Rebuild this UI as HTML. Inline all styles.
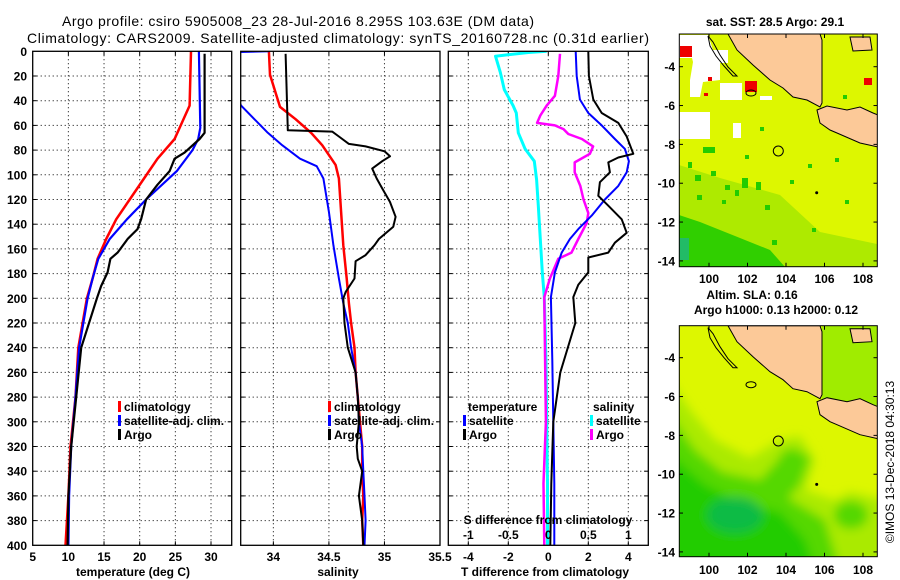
<!DOCTYPE html>
<html><head><meta charset="utf-8"><style>
html,body{margin:0;padding:0;background:#fff;}
svg{display:block;font-family:"Liberation Sans",Arial,sans-serif;}
.t{font-size:12px;font-weight:bold;fill:#000;}
</style></head><body>
<svg id="fig" width="900" height="580" viewBox="0 0 900 580" xmlns="http://www.w3.org/2000/svg">
<defs>
<filter id="blur5" x="-20%" y="-20%" width="140%" height="140%"><feGaussianBlur stdDeviation="5"/></filter>
<clipPath id="cm1"><rect x="679.3" y="34" width="198" height="232.7"/></clipPath>
<clipPath id="cm2"><rect x="679.3" y="325.7" width="198" height="231"/></clipPath>
</defs>
<text x="298" y="26" text-anchor="middle" style="font-size:14px" textLength="472">Argo profile: csiro 5905008_23 28-Jul-2016 8.295S 103.63E (DM data)</text>
<text x="338" y="43" text-anchor="middle" style="font-size:14px" textLength="622">Climatology: CARS2009. Satellite-adjusted climatology: synTS_20160728.nc (0.31d earlier)</text>

<!-- Map 1 -->
<g>
<g clip-path="url(#cm1)">
<rect x="679.3" y="34" width="198" height="232.7" fill="#ddf700"/>
<polygon points="679,165 720,178 780,195 820,232 877,244 877,267 679,267" fill="#a8e800" opacity="0.9"/>
<polygon points="679,215 700,222 740,238 770,250 785,267 679,267" fill="#22cc00" opacity="0.9"/>
<rect x="679" y="238" width="10" height="22" fill="#22bb66"/>
<g fill="#22cc00">
<rect x="742" y="178" width="6" height="10"/><rect x="756" y="182" width="5" height="8"/><rect x="697" y="195" width="5" height="5"/>
<rect x="711" y="171" width="5" height="5"/><rect x="688" y="162" width="4" height="6"/><rect x="722" y="200" width="4" height="4"/>
<rect x="735" y="190" width="4" height="6"/><rect x="808" y="164" width="4" height="4"/><rect x="835" y="158" width="4" height="4"/>
<rect x="790" y="180" width="4" height="4"/><rect x="845" y="200" width="4" height="4"/><rect x="703" y="147" width="12" height="6"/>
<rect x="745" y="155" width="4" height="4"/><rect x="812" y="228" width="4" height="4"/><rect x="772" y="240" width="5" height="5"/>
<rect x="760" y="127" width="4" height="4"/><rect x="818" y="110" width="4" height="4"/><rect x="843" y="95" width="4" height="4"/>
<rect x="695" y="175" width="6" height="6"/><rect x="725" y="185" width="5" height="5"/><rect x="765" y="205" width="5" height="5"/>
</g>
<polygon points="679,35 708,35 713,50 728,50 728,63 720,63 720,80 703,82 700,97 690,97 690,80 693,62 692,58 679,58" fill="#fff"/>
<rect x="679" y="112" width="31" height="27" fill="#fff"/>
<rect x="733" y="123" width="8" height="15" fill="#fff"/>
<rect x="720" y="83" width="22" height="17" fill="#fff"/>
<rect x="760" y="96" width="12" height="4" fill="#fff"/>
<rect x="680" y="46" width="12" height="11" fill="#e00"/>
<rect x="745" y="81" width="12" height="11" fill="#e00"/>
<rect x="708" y="77" width="4" height="4" fill="#e00"/>
<rect x="704" y="93" width="4" height="3" fill="#e00"/>
<rect x="864" y="78" width="8" height="7" fill="#e00"/>
<g id="land1">
<polygon points="728,34 737,50 753,65 770,80 783,88 793,97 807,100 820,107 822,103 822,40 820,34" fill="#fcc998" stroke="#000" stroke-width="1"/>
<polygon points="817,110 827,106 847,110 860,107 873,113 878,115 878,147 860,143 837,133 830,130 820,123" fill="#fcc998" stroke="#000" stroke-width="1"/>
<polygon points="850,37 870,37 872,50 853,51" fill="#fcc998" stroke="#000" stroke-width="1"/>
<polygon points="708,36 713,42 720,55 728,67 737,76 733,76 724,66 716,56 710,46" fill="none" stroke="#000" stroke-width="1"/>
<ellipse cx="751" cy="93" rx="5" ry="3" fill="none" stroke="#000"/>
<circle cx="816.7" cy="192.7" r="1.5" fill="#000"/>
</g>
<circle cx="778.3" cy="151" r="5" fill="none" stroke="#000"/>
</g>
<rect x="679.3" y="34" width="198" height="232.7" fill="none" stroke="#000"/>
</g>
<text x="775" y="26" text-anchor="middle" class="t">sat. SST: 28.5 Argo: 29.1</text>

<!-- Map 2 -->
<g>
<g clip-path="url(#cm2)">
<rect x="679.3" y="325.7" width="198" height="231" fill="#ddf700"/>
<polygon points="822,326 878,326 878,412 822,405" fill="#a0ec00"/>
<g filter="url(#blur5)">
<polygon points="670,380 690,410 715,440 750,458 780,440 800,436 815,460 805,490 835,500 850,492 885,500 885,570 670,570" fill="#aaea00"/>
<polygon points="670,415 695,450 722,472 760,480 780,458 795,448 810,458 800,485 788,498 825,520 840,570 670,570" fill="#55d800"/>
<polygon points="670,455 705,485 745,505 780,512 805,540 815,570 670,570" fill="#22cc00"/>
<ellipse cx="735" cy="515" rx="28" ry="18" fill="#11bb44"/>
<ellipse cx="851" cy="515" rx="17" ry="14" fill="#55d800"/>
<ellipse cx="790" cy="465" rx="12" ry="16" fill="#55d800"/>
</g>
<g transform="translate(0,291.7)">
<polygon points="728,34 737,50 753,65 770,80 783,88 793,97 807,100 820,107 822,103 822,40 820,34" fill="#fcc998" stroke="#000" stroke-width="1"/>
<polygon points="817,110 827,106 847,110 860,107 873,113 878,115 878,147 860,143 837,133 830,130 820,123" fill="#fcc998" stroke="#000" stroke-width="1"/>
<polygon points="850,37 870,37 872,50 853,51" fill="#fcc998" stroke="#000" stroke-width="1"/>
<polygon points="708,36 713,42 720,55 728,67 737,76 733,76 724,66 716,56 710,46" fill="none" stroke="#000" stroke-width="1"/>
<ellipse cx="751" cy="93" rx="5" ry="3" fill="none" stroke="#000"/>
<circle cx="816.7" cy="192.7" r="1.5" fill="#000"/>
</g>
<circle cx="778.3" cy="441" r="5" fill="none" stroke="#000"/>
</g>
<rect x="679.3" y="325.7" width="198" height="231" fill="none" stroke="#000"/>
</g>
<text x="752" y="299" text-anchor="middle" class="t">Altim. SLA: 0.16</text>
<text x="776" y="314" text-anchor="middle" class="t">Argo h1000: 0.13 h2000: 0.12</text>
<text transform="translate(894,462) rotate(-90)" text-anchor="middle" class="t" style="font-weight:normal">©IMOS 13-Dec-2018 04:30:13</text>

<g id="plots"></g>
</svg>
<script>
// ---- Temperature panel data ----
const tDepthClim = [0,44,71,87,103,120,136,152,168,184,200,240,280,320,360,400];
const tClim = [27.2,27.0,24.9,22.5,20.6,18.6,16.7,15.3,14.1,13.4,12.6,11.4,11.0,10.3,10.0,9.6];
const tDepthSat = [0,62,71,80,97,120,136,152,168,184,200,240,280,320,360,400];
const tSat = [28.3,28.5,28.2,27.4,25.2,20.9,18.2,15.8,14.2,13.4,12.7,11.5,11.0,10.4,10.1,10.0];
const tDepthArgo = [2,66,71,82,87,97,108,120,136,144,152,163,168,179,190,200,240,280,320,360,400];
const tArgo = [29.1,29.1,28.4,26.3,24.9,24.2,22.5,20.9,20.2,19.7,18.3,16.9,15.9,15.5,14.6,14.0,11.8,11.1,10.4,10.0,9.9];
// ---- Salinity panel data ----
const sDepthClim = [0,19,45,55,66,76,92,103,130,157,184,204,220,240,260,280,300,320,340,360,380,400];
const sClim = [33.96,33.97,34.06,34.20,34.34,34.44,34.56,34.59,34.61,34.63,34.66,34.68,34.70,34.73,34.74,34.76,34.78,34.80,34.80,34.81,34.80,34.81];
const sDepthSat = [0,1,44,66,76,87,93,103,130,157,184,204,220,240,260,280,300,320,340,360,380,400];
const sSat = [33.96,33.5,33.71,33.95,34.08,34.24,34.39,34.45,34.50,34.54,34.59,34.63,34.67,34.70,34.74,34.76,34.77,34.80,34.81,34.82,34.83,34.82];
const sDepthArgo = [2,64,65,69,75,77,81,85,89,95,103,111,122,134,142,152,157,165,170,184,195,200,220,240,260,280,300,320,330,340,360,380,400];
const sArgo = [34.11,34.13,34.53,34.59,34.68,34.83,35.00,35.05,34.98,34.89,34.93,34.98,35.05,35.10,35.08,34.95,34.91,34.83,34.74,34.73,34.65,34.63,34.64,34.67,34.74,34.76,34.77,34.75,34.76,34.80,34.77,34.80,34.81];
// ---- Difference panel data ----
const dTSatDepth = [0,20,39,50,60,71,79,89,98,109,120,133,144,152,163,179,199,250,300,350,400];
const dTSat = [1.37,1.42,1.58,2.0,2.67,3.33,3.83,4.03,3.92,3.5,2.83,2.17,1.5,1.08,0.67,0.33,0.13,0.2,0.25,0.3,0.3];
const dTArgoDepth = [0,20,39,50,58,69,83,86,90,98,106,117,125,136,147,155,163,167,179,189,199,220,260,300,350,400];
const dTArgo = [2.0,2.03,2.25,2.67,3.5,3.92,4.25,3.5,3.0,3.08,2.58,2.5,3.0,3.67,3.92,3.33,3.0,2.0,2.0,1.5,1.25,1.35,0.6,0.25,0.15,0.1];
const dSSatDepth = [0,1,4,17,31,44,50,66,79,89,104,125,152,179,199,250,300,350,400];
const dSSat = [-0.02,-0.25,-0.66,-0.60,-0.55,-0.44,-0.40,-0.375,-0.29,-0.175,-0.146,-0.125,-0.10,-0.075,-0.05,-0.03,-0.02,-0.01,-0.01];
const dSArgoDepth = [2,20,36,44,52,58,60,63,67,71,77,83,90,98,109,120,131,139,152,163,168,184,199,250,300,350,400];
const dSArgo = [0.146,0.125,0.083,-0.02,-0.10,-0.14,0.083,0.19,0.25,0.42,0.56,0.52,0.33,0.33,0.40,0.44,0.5,0.48,0.375,0.29,0.125,0.02,-0.05,-0.04,-0.03,-0.06,-0.05];
// ---- Tick labels ----
const depthTicks = [0,20,40,60,80,100,120,140,160,180,200,220,240,260,280,300,320,340,360,380,400];
const tTicks = [5,10,15,20,25,30];
const sTicks = ["34","34.5","35","35.5"];
const dTTicks = [-4,-2,0,2,4];
const dSTicks = ["-1","-0.5","0","0.5","1"];
const lonTicks = [100,102,104,106,108];
const latTicks = [-4,-6,-8,-10,-12,-14];

const NS = "http://www.w3.org/2000/svg";
const root = document.getElementById('plots');
function mk(tag, attrs, parent){const e=document.createElementNS(NS,tag);for(const k in attrs)e.setAttribute(k,attrs[k]);(parent||root).appendChild(e);return e;}
const Y0=51.3, Y1=545.3;
function yD(d){return Y0+(d/400)*(Y1-Y0);}
const panels = [
 {name:'temperature', x0:32.7, x1:231.7, min:5, max:32.9, grid:[10,15,20,25,30]},
 {name:'salinity', x0:240.7, x1:440, min:33.706, max:35.5, grid:[34,34.5,35]},
 {name:'difference', x0:448.3, x1:648.3, min:-5, max:5, grid:[-4,-2,0,2,4]}
];
function xf(p){return v=>p.x0+(v-p.min)/(p.max-p.min)*(p.x1-p.x0);}
panels.forEach((p,i)=>{
  const g=mk('g',{});
  
  
  const cp=mk('clipPath',{id:'cp'+i},g); mk('rect',{x:p.x0,y:Y0,width:p.x1-p.x0,height:Y1-Y0},cp);
  const X=xf(p);
  for(let d=20; d<400; d+=20){
    const l=mk('line',{x1:p.x0,x2:p.x1,y1:yD(d),y2:yD(d),stroke:'#000','stroke-width':1,'stroke-dasharray':'1,3'},g);
    
    
    mk('line',{x1:p.x0,x2:p.x0+4,y1:yD(d),y2:yD(d),stroke:'#000'},g);
    mk('line',{x1:p.x1-4,x2:p.x1,y1:yD(d),y2:yD(d),stroke:'#000'},g);
  }
  p.grid.forEach(v=>{
    const l=mk('line',{x1:X(v),x2:X(v),y1:Y0,y2:Y1,stroke:'#000','stroke-width':1,'stroke-dasharray':'1,3'},g);
    
    
    mk('line',{x1:X(v),x2:X(v),y1:Y0,y2:Y0+4,stroke:'#000'},g);
    mk('line',{x1:X(v),x2:X(v),y1:Y1-4,y2:Y1,stroke:'#000'},g);
  });
  p.g=g; p.X=X;
});
function series(p, depths, vals, color, w, name, scale){
  const X=p.X; scale=scale||1;
  const pts=depths.map((d,k)=>X(vals[k]*scale).toFixed(1)+','+yD(d).toFixed(1)).join(' ');
  const pl=mk('polyline',{points:pts,fill:'none',stroke:color,'stroke-width':w,'stroke-linejoin':'round','clip-path':'url(#cp'+panels.indexOf(p)+')'},p.g);
  
  
}
series(panels[0], tDepthClim, tClim, '#f00', 2.5, 'temperature-climatology-line');
series(panels[0], tDepthSat, tSat, '#00f', 2.2, 'temperature-satellite-line');
series(panels[0], tDepthArgo, tArgo, '#000', 2.2, 'temperature-argo-line');
series(panels[1], sDepthClim, sClim, '#f00', 2.5, 'salinity-climatology-line');
series(panels[1], sDepthSat, sSat, '#00f', 2, 'salinity-satellite-line');
series(panels[1], sDepthArgo, sArgo, '#000', 2, 'salinity-argo-line');
series(panels[2], dSSatDepth, dSSat, '#0ff', 3, 'salinity-satellite-diff-line', 4);
series(panels[2], dSArgoDepth, dSArgo, '#f0f', 2.5, 'salinity-argo-diff-line', 4);
series(panels[2], dTSatDepth, dTSat, '#00f', 2, 'temperature-satellite-diff-line');
series(panels[2], dTArgoDepth, dTArgo, '#000', 2, 'temperature-argo-diff-line');
panels.forEach(p=>{mk('rect',{x:p.x0,y:Y0,width:p.x1-p.x0,height:Y1-Y0,fill:'none',stroke:'#000','stroke-width':1.3},p.g);});
function txt(x,y,s,anchor,name,extra){const t=mk('text',Object.assign({x:x,y:y,'text-anchor':anchor||'start',class:'t'},extra||{}));t.textContent=s;
  
  
  return t;}
depthTicks.forEach(d=>{txt(27,yD(d)+4.5,String(d),'end','depth-tick-label');});
tTicks.forEach(v=>{txt(panels[0].X(v),561,String(v),'middle','temperature-tick-label');});
sTicks.forEach(v=>{txt(panels[1].X(parseFloat(v)),561,v,'middle','salinity-tick-label');});
dTTicks.forEach(v=>{txt(panels[2].X(v),561,String(v),'middle','t-diff-tick-label');});
dSTicks.forEach(v=>{txt(panels[2].X(parseFloat(v)*4),539,v,'middle','s-diff-tick-label');});
txt(548,524,'S difference from climatology','middle','s-diff-axis-title');
txt(133,576,'temperature (deg C)','middle','temperature-axis-title');
txt(338,576,'salinity','middle','salinity-axis-title');
txt(545,576,'T difference from climatology','middle','t-diff-axis-title');
// legends
function leg(x,y,color,label,name){
  const r=mk('rect',{x:x,y:y-10,width:3,height:11,fill:color});
  
  
  txt(x+6,y,label,'start',name);
}
leg(118,411,'#f00','climatology','legend-climatology');
leg(118,425,'#00f','satellite-adj. clim.','legend-satellite');
leg(118,439,'#000','Argo','legend-argo');
leg(328,411,'#f00','climatology','legend2-climatology');
leg(328,425,'#00f','satellite-adj. clim.','legend2-satellite');
leg(328,439,'#000','Argo','legend2-argo');
txt(468,411,'temperature','start','legend-temperature-header');
leg(463,425,'#00f','satellite','legend-t-satellite');
leg(463,439,'#000','Argo','legend-t-argo');
txt(593,411,'salinity','start','legend-salinity-header');
leg(590,425,'#0ff','satellite','legend-s-satellite');
leg(590,439,'#f0f','Argo','legend-s-argo');
// map axes
function lonX(l){return 709+(l-100)*19.25;}
[[34,266.7,66.7,283],[325.7,556.7,357.7,574]].forEach((m,mi)=>{
  lonTicks.forEach(l=>{
    mk('line',{x1:lonX(l),x2:lonX(l),y1:m[0],y2:m[0]+4,stroke:'#000'});
    mk('line',{x1:lonX(l),x2:lonX(l),y1:m[1]-4,y2:m[1],stroke:'#000'});
    txt(lonX(l),m[3],String(l),'middle','map'+(mi+1)+'-lon-label');
  });
  latTicks.forEach(la=>{
    const y=m[2]+(-4-la)*19.42;
    mk('line',{x1:679.3,x2:683,y1:y,y2:y,stroke:'#000'});
    mk('line',{x1:873.5,x2:877.3,y1:y,y2:y,stroke:'#000'});
    txt(675,y+4.5,String(la),'end','map'+(mi+1)+'-lat-label');
  });
});
</script>
</body></html>
